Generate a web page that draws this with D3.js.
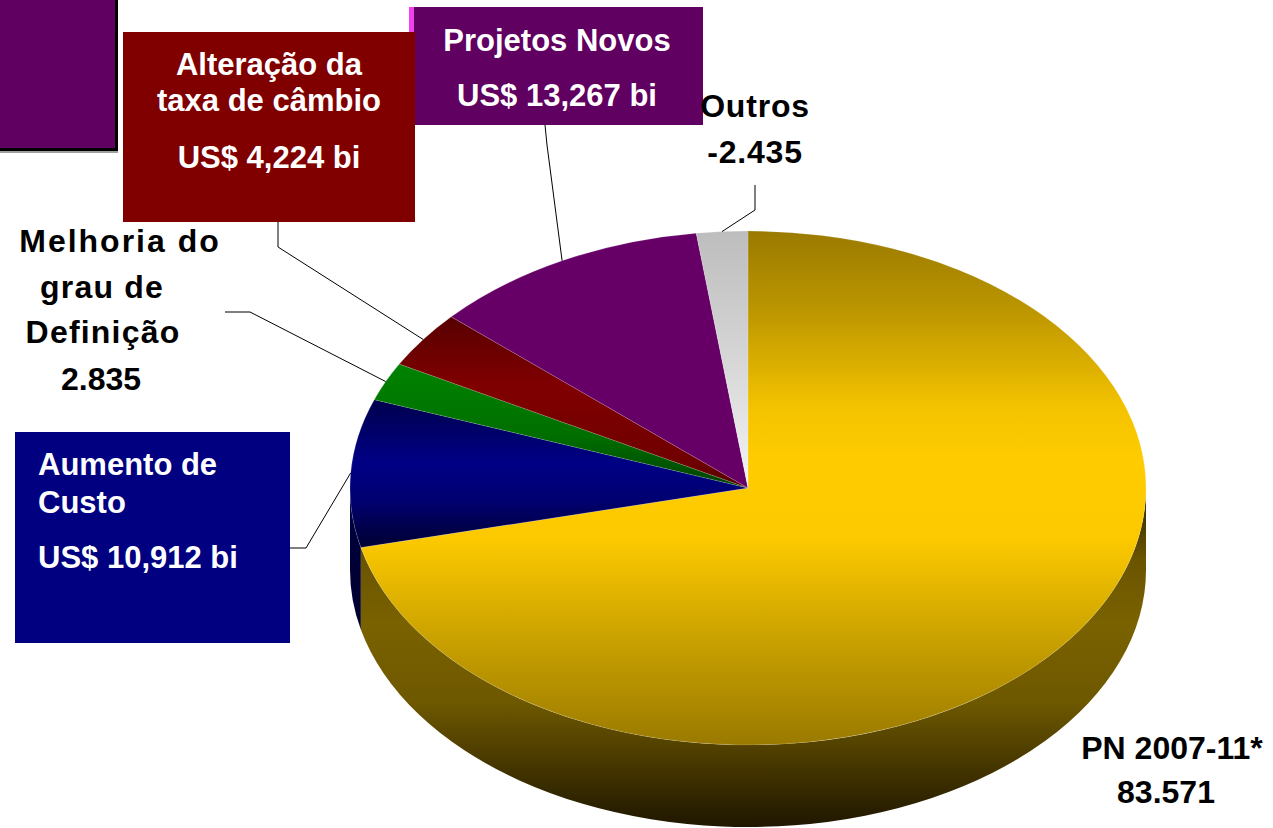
<!DOCTYPE html>
<html>
<head>
<meta charset="utf-8">
<script src="https://cdn.jsdelivr.net/npm/d3@7"></script>
<style>
  body { margin: 0; background: #fff; }
  svg { display: block; font-family: "Liberation Sans", Arial, sans-serif; font-weight: bold; }
</style>
</head>
<body>
<script>
// data (PN 2007-11 -> PN 2008-12 bridge)
var categories = ["PN 2007-11*", "Aumento de Custo", "Melhoria do grau de Definição",
                  "Alteração da taxa de câmbio", "Projetos Novos", "Outros"];
var values = [83.571, 10.912, 2.835, 4.224, 13.267, 2.435];
var valueLabels = ["83.571", "US$ 10,912 bi", "2.835", "US$ 4,224 bi", "US$ 13,267 bi", "-2.435"];

var w = 1273, h = 828;
var cx = 748, cy = 488, rx = 398, ry = 257, depth = 82;

var svg = d3.select("body").append("svg")
    .attr("width", w)
    .attr("height", h);
var defs = svg.append("defs");

// shading of each slice's top face, top of pie = 0, bottom = 1
var topShade = [
  [[0, "#9a7a00"], [0.15, "#bb9500"], [0.35, "#f5c400"], [0.45, "#ffcc00"], [0.6, "#fcc900"], [0.8, "#c8a000"], [1, "#9a7a00"]],
  [[0.3, "#000040"], [0.45, "#000085"], [0.52, "#000072"], [0.62, "#000030"]],
  [[0.28, "#008000"], [0.4, "#006e00"], [0.5, "#004000"]],
  [[0.17, "#580000"], [0.3, "#800000"], [0.45, "#700000"], [0.5, "#500000"]],
  [[0, "#660066"], [1, "#660066"]],
  [[0, "#bdbdbd"], [0.25, "#d6d6d6"], [0.5, "#f4f4f4"]]
];
var sideShade = [
  [[0, "#2e2400"], [0.05, "#3a2e00"], [0.21, "#6a5400"], [0.4, "#7a6200"], [0.63, "#6e5800"], [0.8, "#4a3a00"], [1, "#1e1600"]],
  [[0, "#000040"], [1, "#000018"]]
];

topShade.forEach(function(stops, i) {
  var g = defs.append("linearGradient")
      .attr("id", "top" + i)
      .attr("gradientUnits", "userSpaceOnUse")
      .attr("x1", 0).attr("x2", 0)
      .attr("y1", -rx).attr("y2", rx);
  stops.forEach(function(s) {
    g.append("stop").attr("offset", s[0]).attr("stop-color", s[1]);
  });
});
sideShade.forEach(function(stops, i) {
  var g = defs.append("linearGradient")
      .attr("id", "side" + i)
      .attr("gradientUnits", "userSpaceOnUse")
      .attr("x1", 0).attr("x2", 0)
      .attr("y1", cy).attr("y2", cy + ry + depth);
  stops.forEach(function(s) {
    g.append("stop").attr("offset", s[0]).attr("stop-color", s[1]);
  });
});

var pie = d3.pie().sort(null).value(function(d) { return d; });
var arcs = pie(values);
var arc = d3.arc().innerRadius(0).outerRadius(rx);

function pt(a, dy) {
  return [cx + rx * Math.sin(a), cy - ry * Math.cos(a) + (dy || 0)];
}

// side walls (front half only)
arcs.forEach(function(d, i) {
  var a0 = Math.max(d.startAngle, Math.PI / 2);
  var a1 = Math.min(d.endAngle, 3 * Math.PI / 2);
  if (a0 >= a1) return;
  var p0 = pt(a0), p1 = pt(a1), q1 = pt(a1, depth), q0 = pt(a0, depth);
  var path = "M" + p0 + "A" + rx + "," + ry + " 0 0 1 " + p1 +
             "L" + q1 + "A" + rx + "," + ry + " 0 0 0 " + q0 + "Z";
  svg.append("path")
      .attr("d", path)
      .attr("fill", "url(#side" + Math.min(i, 1) + ")");
});

// top faces
var topG = svg.append("g")
    .attr("transform", "translate(" + cx + "," + cy + ") scale(1," + (ry / rx) + ")");
topG.selectAll("path")
    .data(arcs)
    .enter()
    .append("path")
    .attr("d", arc)
    .attr("fill", function(d, i) { return "url(#top" + i + ")"; })
    .attr("stroke", "rgba(255,255,255,0.25)")
    .attr("stroke-width", 0.6)
    .attr("vector-effect", "non-scaling-stroke");

// leader lines: label side points, ending at the slice's outer mid point
var leaders = [
  null,
  [[290, 548], [306, 548]],
  [[225, 312], [250, 312]],
  [[278, 222], [278, 247]],
  [[545, 125], [547, 145]],
  [[755, 185], [755, 210]]
];
arcs.forEach(function(d, i) {
  if (!leaders[i]) return;
  var end = pt((d.startAngle + d.endAngle) / 2);
  svg.append("path")
      .attr("d", d3.line()(leaders[i].concat([end])))
      .attr("fill", "none")
      .attr("stroke", "#000")
      .attr("stroke-width", 1);
});

// label boxes
svg.append("rect").attr("x", 0).attr("y", 0).attr("width", 118).attr("height", 151).attr("fill", "#000");
svg.append("rect").attr("x", 0).attr("y", 0).attr("width", 115).attr("height", 148).attr("fill", "#600060");
svg.append("rect").attr("x", 0).attr("y", 151).attr("width", 118).attr("height", 2).attr("fill", "#a0a0a0");

svg.append("rect").attr("x", 409).attr("y", 7).attr("width", 6).attr("height", 30).attr("fill", "#f040f0");
svg.append("rect").attr("x", 414).attr("y", 7).attr("width", 289).attr("height", 118).attr("fill", "#600060");
svg.append("rect").attr("x", 123).attr("y", 32).attr("width", 292).attr("height", 190).attr("fill", "#800000");
svg.append("rect").attr("x", 15).attr("y", 432).attr("width", 275).attr("height", 211).attr("fill", "#000080");

// label texts
var labels = [
  { lines: ["PN 2007-11*", valueLabels[0]], x: [1172, 1166], y: [759, 803], size: 32, color: "#000", anchor: "middle", ls: 0 },
  { lines: ["Aumento de", "Custo", valueLabels[1]], x: [38, 38, 38], y: [475, 513, 568], size: 31, color: "#fff", anchor: "start", ls: 0 },
  { lines: ["Melhoria do", "grau de", "Definição", valueLabels[2]], x: [120, 102, 103, 101], y: [252, 298, 343, 390], size: 32, color: "#000", anchor: "middle", ls: [2, 1.2, 1.2, 0] },
  { lines: ["Alteração da", "taxa de câmbio", valueLabels[3]], x: [269, 269, 269], y: [75, 111, 168], size: 31, color: "#fff", anchor: "middle", ls: 0 },
  { lines: ["Projetos Novos", valueLabels[4]], x: [557, 557], y: [51, 106], size: 31, color: "#fff", anchor: "middle", ls: 0 },
  { lines: ["Outros", valueLabels[5]], x: [755, 755], y: [117, 163], size: 32, color: "#000", anchor: "middle", ls: 0.8 }
];
labels.forEach(function(l) {
  l.lines.forEach(function(t, j) {
    svg.append("text")
        .attr("x", l.x[j])
        .attr("y", l.y[j])
        .attr("text-anchor", l.anchor)
        .attr("font-size", l.size)
        .attr("letter-spacing", Array.isArray(l.ls) ? l.ls[j] : l.ls)
        .attr("fill", l.color)
        .text(t);
  });
});
</script>
</body>
</html>
